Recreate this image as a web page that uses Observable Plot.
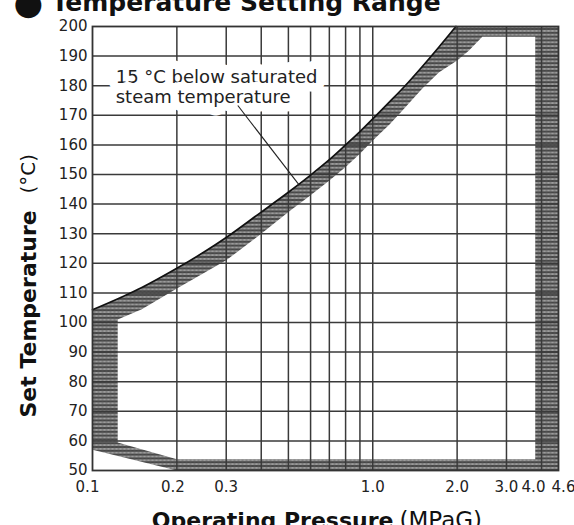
<!DOCTYPE html>
<html><head><meta charset="utf-8">
<script src="https://cdn.jsdelivr.net/npm/d3@7"></script>
<script src="https://cdn.jsdelivr.net/npm/@observablehq/plot@0.6"></script>
<style>
body{margin:0;background:#fff;}
#chart{width:574px;height:525px;overflow:hidden;}
</style>
</head><body><div id="chart"></div>
<script>
// ---- data ----
const titleText = "Temperature Setting Range";
const xLabelBold = "Operating Pressure";
const xLabelUnit = "(MPaG)";
const yLabelBold = "Set Temperature";
const yLabelUnit = "(°C)";
const noteText = "15 °C below saturated\nsteam temperature";

const pressureTicks = [0.1, 0.2, 0.3, 0.5, 0.7, 1, 2, 3, 4, 4.6];
const pressureTickLabels = ["0.1", "0.2", "0.3", "0.5", "0.7", "1.0", "2.0", "3.0", "4.0", "4.6"];
const tempTicks = [50, 60, 70, 80, 90, 100, 110, 120, 130, 140, 150, 160, 170, 180, 190, 200];
const gridPressure = [0.2, 0.3, 0.4, 0.5, 0.6, 0.7, 0.8, 0.9, 1, 2, 3, 4];
const gridTemp = [60, 70, 80, 90, 100, 110, 120, 130, 140, 150, 160, 170, 180, 190];

// upper boundary curve (solid line)
const curveP = [0.1, 0.125, 0.15, 0.2, 0.25, 0.3, 0.4, 0.5, 0.6, 0.7, 0.8, 0.9, 1.0, 1.15, 1.3, 1.5, 1.72, 1.98];
const curveT = [104.3, 108.3, 111.8, 118.3, 123.8, 128.7, 137.3, 144.0, 149.8, 155.0, 160.0, 164.5, 168.8, 174.6, 179.8, 186.4, 193.0, 200];
// outer corners of the hatched range (after the curve)
const outerCornerP = [4.6, 4.6, 0.2, 0.1];
const outerCornerT = [200, 50, 50, 57];
// inner edge of the hatched band
const innerP = [0.123, 0.15, 0.2, 0.3, 0.4, 0.5, 0.6, 0.7, 0.8, 0.9, 1.0, 1.15, 1.3, 1.5, 1.72, 2.0, 2.2, 2.46, 3.8];
const innerT = [101, 104.5, 111.5, 121, 130, 137.3, 143, 148, 152.5, 157, 161.5, 167, 172.5, 179, 184.5, 188.5, 191.8, 196.5, 196.5];
const innerCornerP = [3.8, 0.2, 0.123];
const innerCornerT = [53.8, 53.8, 59.5];

// annotation anchor and leader
const noteAt = {p: 0.121, t: 179.6};
const leader = {p1: 0.33, t1: 173.3, p2: 0.545, t2: 146.6};

// ---- build tables ----
const curve = curveP.map((p, i) => ({p, t: curveT[i]}));
const outer = curve.concat(outerCornerP.map((p, i) => ({p, t: outerCornerT[i]})));
const inner = innerP.map((p, i) => ({p, t: innerT[i]}))
  .concat(innerCornerP.map((p, i) => ({p, t: innerCornerT[i]})));
const tickLabel = new Map(pressureTicks.map((v, i) => [v, pressureTickLabels[i]]));
const fmt = d => tickLabel.get(d);

const axisOpts = {anchor: "bottom", tickSize: 0, tickPadding: 11, tickFormat: fmt, label: null, fontSize: 15, fill: "#222"};

const chart = Plot.plot({
  width: 574,
  height: 525,
  marginLeft: 92,
  marginRight: 16,
  marginTop: 26,
  marginBottom: 55,
  style: {fontFamily: "DejaVu Sans", fontSize: "15px", color: "#222", background: "#fff"},
  x: {type: "log", domain: [0.1, 4.6]},
  y: {domain: [50, 200]},
  marks: [
    Plot.line(outer, {x: "p", y: "t", fill: "url(#hatch)", stroke: "none", curve: "linear"}),
    Plot.line(inner, {x: "p", y: "t", fill: "#fff", stroke: "none", curve: "linear"}),
    Plot.ruleX(gridPressure, {stroke: "#3a3a3a", strokeWidth: 1.5}),
    Plot.ruleY(gridTemp, {stroke: "#3a3a3a", strokeWidth: 1.5}),
    Plot.line(curve, {x: "p", y: "t", stroke: "#111", strokeWidth: 1.7, curve: "catmull-rom"}),
    Plot.frame({stroke: "#333", strokeWidth: 1.8}),
    Plot.axisY(tempTicks, {anchor: "left", tickSize: 0, tickPadding: 5, label: null, fontSize: 15, fill: "#222"}),
    Plot.axisX(pressureTicks.slice(2, 8), axisOpts),
    Plot.axisX([pressureTicks[0]], {...axisOpts, dx: -5}),
    Plot.axisX([pressureTicks[1]], {...axisOpts, dx: -4}),
    Plot.axisX([pressureTicks[8]], {...axisOpts, dx: -8}),
    Plot.text([pressureTicks[9]], {x: d => d, text: fmt, frameAnchor: "bottom", dy: 11, dx: 5,
      lineAnchor: "top", fontSize: 15, fill: "#222"}),
    // annotation
    Plot.text([noteAt], {x: "p", y: "t", text: () => noteText, textAnchor: "start", lineAnchor: "middle",
      fontSize: 18, lineHeight: 1.06, fill: "#222", stroke: "#fff", strokeWidth: 17}),
    Plot.link([leader], {x1: "p1", y1: "t1", x2: "p2", y2: "t2", stroke: "#222", strokeWidth: 1.1}),
    // title
    Plot.text(["●"], {text: d => d, frameAnchor: "top-left", dx: -79, dy: -13, textAnchor: "start",
      lineAnchor: "bottom", fontSize: 34, fill: "#111"}),
    Plot.text([titleText], {text: d => d, frameAnchor: "top-left", dx: -41, dy: -15.5, textAnchor: "start",
      lineAnchor: "bottom", fontSize: 25, fontWeight: "bold", fill: "#111"}),
    // x label
    Plot.text([xLabelBold], {text: d => d, frameAnchor: "bottom", dx: 68, dy: 57, textAnchor: "end",
      lineAnchor: "bottom", fontSize: 22, fontWeight: "bold", fill: "#111"}),
    Plot.text([xLabelUnit], {text: d => d, frameAnchor: "bottom", dx: 74, dy: 57, textAnchor: "start",
      lineAnchor: "bottom", fontSize: 23, fill: "#111"}),
    // y label
    Plot.text([yLabelBold], {text: d => d, frameAnchor: "left", dx: -64, dy: 169, rotate: -90, textAnchor: "start",
      lineAnchor: "middle", fontSize: 22, fontWeight: "bold", fill: "#111"}),
    Plot.text([yLabelUnit], {text: d => d, frameAnchor: "left", dx: -64, dy: -55, rotate: -90, textAnchor: "start",
      lineAnchor: "middle", fontSize: 20, fill: "#111"})
  ]
});

d3.select(chart).insert("defs", ":first-child").html(
  '<pattern id="hatch" patternUnits="userSpaceOnUse" width="8" height="3.8">' +
  '<rect width="8" height="3.8" fill="#9c9c9c"/>' +
  '<path d="M0,1.9 Q2,0 4,1.9 T8,1.9" fill="none" stroke="#2a2a2a" stroke-width="0.9"/>' +
  '<path d="M0,1.9 Q2,3.8 4,1.9 T8,1.9" fill="none" stroke="#2a2a2a" stroke-width="0.9"/>' +
  '</pattern>'
);
document.getElementById("chart").appendChild(chart);
</script>
</body></html>
